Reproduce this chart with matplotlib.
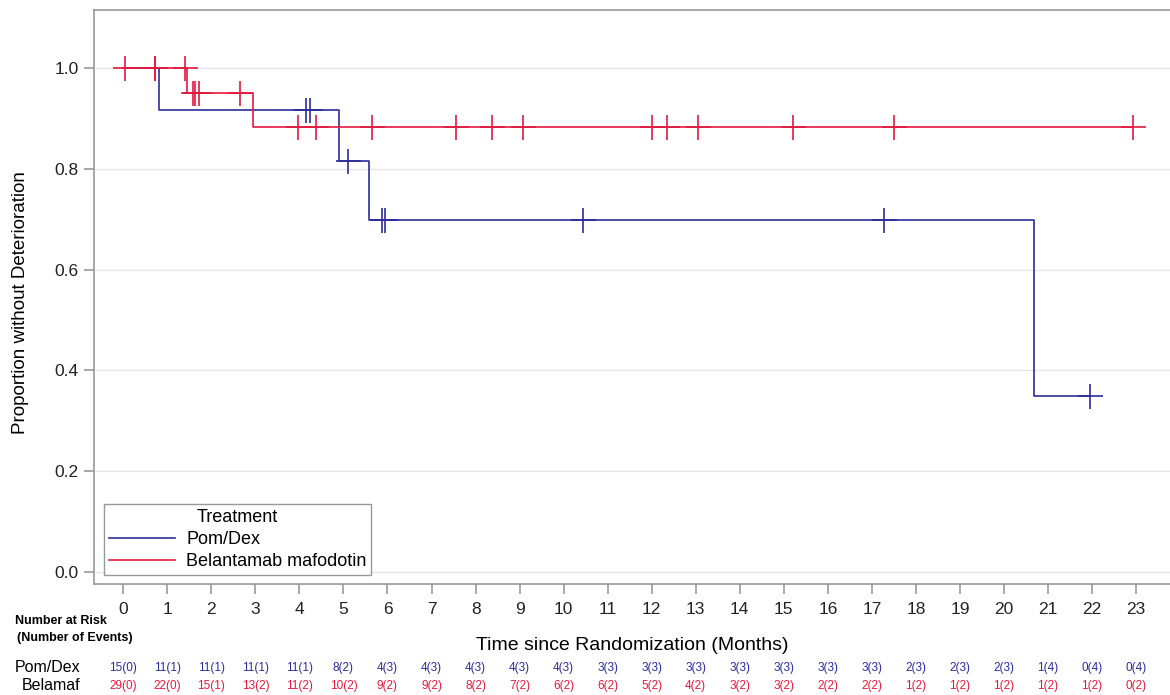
import numpy as np
import matplotlib
matplotlib.use("Agg")
import matplotlib.pyplot as plt
import matplotlib.transforms as mtransforms

plt.rcParams['font.family'] = ['Liberation Sans', 'DejaVu Sans']

# ---- Kaplan-Meier data (months / proportion without deterioration) ----
pom_event_t = [0.82, 4.90, 5.58, 20.68]
pom_surv = [1.0, 0.917, 0.815, 0.698, 0.349]
pom_last_t = 21.95
pom_censor_t = [4.16, 4.24, 5.10, 5.87, 5.95, 10.45, 17.27, 21.95]

bel_event_t = [1.44, 2.95]
bel_surv = [1.0, 0.950, 0.882]
bel_last_t = 22.93
bel_censor_t = [0.03, 0.71, 0.73, 1.40, 1.59, 1.62, 1.72, 2.65,
                3.96, 4.38, 5.64, 7.55, 8.37, 9.08, 12.00, 12.34,
                13.04, 15.21, 17.50, 22.93]

# ---- number at risk (number of events) ----
months = list(range(24))
pom_risk = ['15(0)', '11(1)', '11(1)', '11(1)', '11(1)', '8(2)', '4(3)', '4(3)',
            '4(3)', '4(3)', '4(3)', '3(3)', '3(3)', '3(3)', '3(3)', '3(3)',
            '3(3)', '3(3)', '2(3)', '2(3)', '2(3)', '1(4)', '0(4)', '0(4)']
bel_risk = ['29(0)', '22(0)', '15(1)', '13(2)', '11(2)', '10(2)', '9(2)', '9(2)',
            '8(2)', '7(2)', '6(2)', '6(2)', '5(2)', '4(2)', '3(2)', '3(2)',
            '2(2)', '2(2)', '1(2)', '1(2)', '1(2)', '1(2)', '1(2)', '0(2)']

COL_POM = '#2c2c9c'
COL_BEL = '#e3193f'


def km_curve(event_t, surv, last_t):
    t = np.array([0.0] + list(event_t) + [last_t])
    s = np.array(list(surv) + [surv[-1]])
    return t, s


def surv_at(t_steps, s_steps, times):
    idx = np.searchsorted(t_steps, times, side='right') - 1
    return s_steps[idx]


fig = plt.figure(figsize=(11.7, 6.95), dpi=100)
ax = fig.add_axes([94 / 1170, 1 - 584 / 695, 1 - 94 / 1170, (584 - 10) / 695])

for event_t, surv, last_t, cens, col, lab in [
        (pom_event_t, pom_surv, pom_last_t, pom_censor_t, COL_POM, 'Pom/Dex'),
        (bel_event_t, bel_surv, bel_last_t, bel_censor_t, COL_BEL, 'Belantamab mafodotin')]:
    t, s = km_curve(event_t, surv, last_t)
    ax.step(t, s, where='post', color=col, lw=1.2, label=lab, zorder=3)
    ax.plot(cens, surv_at(t, s, cens), ls='none', marker='+', ms=18,
            mew=1.2, color=col, zorder=3)

ax.set_xlim(-0.665, 23.77)
ax.set_ylim(-0.024, 1.115)
ax.set_xticks(months)
ax.set_yticks([0.0, 0.2, 0.4, 0.6, 0.8, 1.0])
ax.set_yticklabels(['0.0', '0.2', '0.4', '0.6', '0.8', '1.0'])
ax.grid(axis='y', color='#e6e6e6', lw=1.0, zorder=0)
ax.set_axisbelow(True)

for side in ['left', 'top', 'bottom']:
    ax.spines[side].set_color('#999999')
    ax.spines[side].set_linewidth(1.2)
ax.spines['right'].set_visible(False)
ax.tick_params(axis='both', direction='out', length=7, width=1.2,
               color='#999999', labelsize=12.5, labelcolor='#222222', pad=4)
ax.tick_params(axis='x', pad=6)

ax.set_ylabel('Proportion without Deterioration', fontsize=13.5)
ax.yaxis.set_label_coords(-0.06, 0.49)
ax.set_xlabel('Time since Randomization (Months)', fontsize=14, labelpad=14)

leg = ax.legend(loc='lower left', bbox_to_anchor=(10 / 1076, 9 / 574),
                borderaxespad=0, title='Treatment', title_fontsize=13,
                fontsize=13, handlelength=3.7, handletextpad=0.6,
                fancybox=False, framealpha=1, edgecolor='#999999',
                borderpad=0.25, labelspacing=0.3)
leg.get_frame().set_linewidth(1.0)

# number at risk table below the axis
trans = mtransforms.blended_transform_factory(ax.transData, fig.transFigure)
fig.text(15 / 1170, 1 - 621 / 695, 'Number at Risk', fontsize=9,
         fontweight='bold', va='center', ha='left')
fig.text(17 / 1170, 1 - 638 / 695, '(Number of Events)', fontsize=9,
         fontweight='bold', va='center', ha='left')
fig.text(80 / 1170, 1 - 668 / 695, 'Pom/Dex', fontsize=11.5, va='center', ha='right')
fig.text(80 / 1170, 1 - 686 / 695, 'Belamaf', fontsize=11.5, va='center', ha='right')
for m, p, b in zip(months, pom_risk, bel_risk):
    ax.text(m, 1 - 668 / 695, p, transform=trans, fontsize=8.5,
            color=COL_POM, ha='center', va='center')
    ax.text(m, 1 - 686 / 695, b, transform=trans, fontsize=8.5,
            color=COL_BEL, ha='center', va='center')

fig.savefig('out.png', dpi=100)
